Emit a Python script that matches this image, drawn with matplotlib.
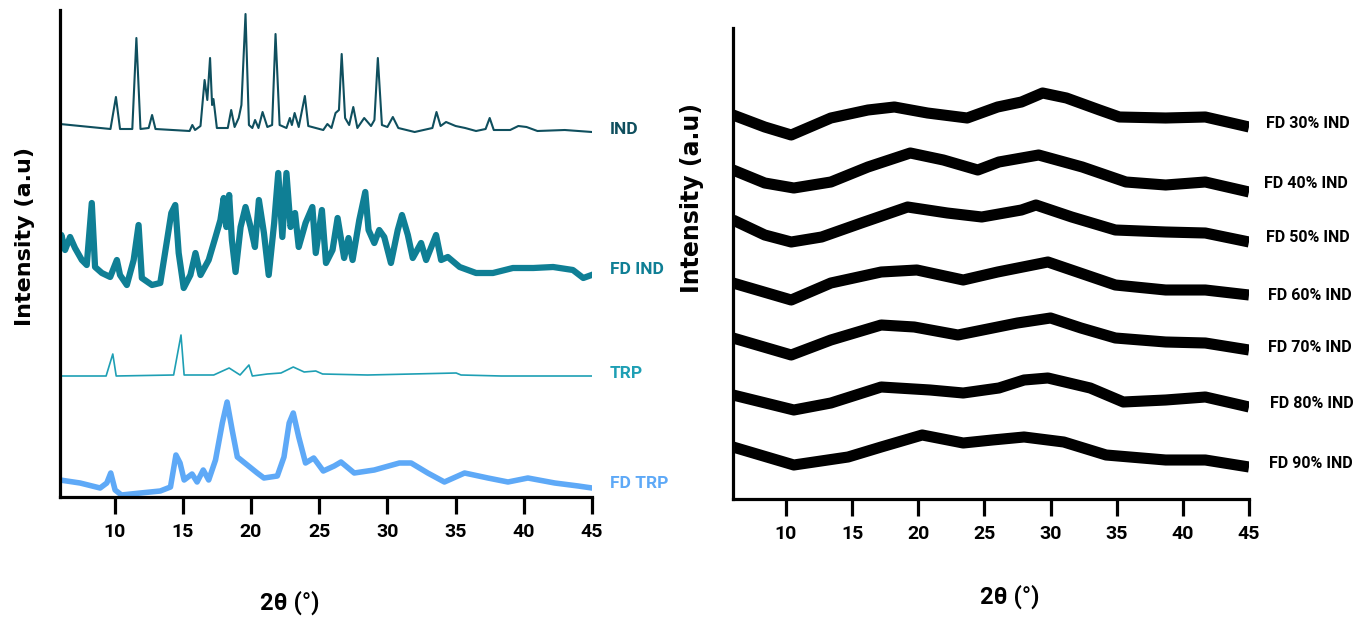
import numpy as np
import matplotlib
matplotlib.use("Agg")
import matplotlib.pyplot as plt

# ---- left panel: raw materials (2theta in deg, intensity in a.u.)
ind_tt = [6.0, 9.7, 10.1, 10.4, 11.3, 11.6, 11.9, 12.5, 12.75, 13.0,
          15.5, 15.7, 15.9, 16.3, 16.6, 16.8, 17.0, 17.15, 17.25, 17.5,
          18.3, 18.55, 18.8, 19.1, 19.3, 19.6, 19.85, 20.1, 20.3, 20.55,
          20.85, 21.2, 21.55, 21.8, 22.1, 22.6, 22.85, 23.0, 23.2, 23.5,
          23.95, 24.2, 25.3, 25.6, 25.9, 26.2, 26.45, 26.65, 26.9, 27.2,
          27.5, 27.8, 28.3, 28.8, 29.05, 29.3, 29.6, 30.0, 30.4, 30.8,
          32.0, 33.3, 33.6, 33.9, 34.3, 35.0, 35.7, 36.5, 37.2, 37.5,
          37.8, 39.0, 39.6, 40.2, 41.0, 43.0, 45.0]
ind_int = [11, 6, 38, 6, 6, 97, 6, 7, 20, 6,
           4, 10, 5, 9, 55, 35, 77, 30, 36, 7,
           7, 25, 8, 17, 30, 121, 10, 7, 15, 7,
           23, 8, 10, 101, 10, 7, 17, 10, 22, 8,
           39, 9, 5, 11, 7, 22, 25, 81, 17, 10,
           28, 7, 17, 9, 15, 77, 10, 8, 18, 7,
           3, 7, 23, 9, 13, 9, 7, 4, 6, 17,
           5, 5, 9, 8, 4, 5, 3]

fdind_tt = [6.0, 6.1, 6.37, 6.74, 7.1, 7.6, 7.96, 8.33, 8.57, 9.07,
            9.68, 10.17, 10.4, 10.9, 11.4, 11.76, 12.0, 12.74, 13.35, 13.85,
            14.16, 14.45, 14.7, 15.07, 15.56, 15.93, 16.3, 16.9, 17.4, 17.76,
            18.0, 18.2, 18.4, 18.6, 18.87, 19.24, 19.6, 19.97, 20.29, 20.58,
            20.95, 21.3, 21.7, 22.0, 22.3, 22.6, 22.9, 23.23, 23.5, 24.0,
            24.5, 24.75, 25.2, 25.5, 25.98, 26.35, 26.83, 27.15, 27.45, 27.94,
            28.38, 28.62, 29.04, 29.4, 29.77, 30.26, 30.76, 31.07, 31.5, 31.86,
            32.47, 32.84, 33.57, 33.94, 34.43, 35.3, 36.5, 37.74, 39.2, 40.7,
            42.15, 43.6, 44.36, 44.97]
fdind_int = [57, 65, 50, 63, 52, 40, 35, 97, 33, 27,
             23, 40, 25, 15, 40, 75, 22, 15, 17, 60,
             87, 95, 47, 12, 25, 47, 25, 40, 63, 80,
             102, 73, 105, 60, 28, 73, 93, 73, 53, 100,
             67, 25, 77, 127, 63, 127, 73, 87, 53, 77,
             93, 47, 90, 37, 50, 82, 42, 62, 40, 80,
             108, 70, 57, 70, 63, 37, 70, 85, 65, 42,
             57, 40, 65, 40, 43, 33, 27, 27, 32, 32,
             33, 30, 22, 25]

trp_tt = [6.0, 9.38, 9.87, 10.12, 14.33, 14.87, 15.1, 17.27, 18.4, 19.2,
          19.85, 20.1, 21.2, 22.2, 23.1, 23.9, 24.75, 25.25, 28.55, 35.04,
          35.4, 38.35, 45.0]
trp_int = [4, 4, 26, 4, 5, 45, 5, 5, 12, 5,
           15, 4, 6, 7, 13, 8, 9, 6, 5, 7,
           5, 4, 4]

fdtrp_tt = [6.0, 7.47, 8.94, 9.43, 9.72, 10.04, 10.5, 11.9, 13.35, 14.1,
            14.5, 14.8, 15.1, 15.68, 16.05, 16.5, 16.9, 17.4, 17.9, 18.25,
            18.62, 19.0, 19.73, 20.46, 20.95, 21.93, 22.42, 22.8, 23.1, 23.5,
            24.0, 24.6, 25.3, 26.1, 26.6, 27.57, 29.04, 30.88, 31.74, 32.96,
            34.18, 35.66, 37.37, 38.84, 40.3, 42.27, 43.99, 45.0]
fdtrp_int = [16, 13, 8, 13, 23, 6, 1, 3, 5, 9,
             41, 33, 16, 22, 14, 26, 16, 36, 73, 94,
             66, 39, 31, 23, 18, 20, 39, 73, 83, 59,
             33, 38, 25, 30, 34, 23, 26, 33, 33, 23,
             14, 23, 18, 14, 18, 13, 10, 8]

left_names = ["IND", "FD IND", "TRP", "FD TRP"]

# ---- right panel: freeze-dried co-amorphous mixtures
fd30_tt = [6.0, 8.4, 10.4, 13.4, 16.2, 18.2, 20.7, 23.7, 26.0, 27.8, 29.4, 31.2, 33.7, 35.2, 38.7, 41.7, 45.0]
fd30_int = [20, 8, 0, 17, 25, 28, 22, 17, 28, 33, 42, 37, 25, 18, 17, 18, 8]
fd40_tt = [6.0, 8.4, 10.6, 13.4, 16.2, 19.4, 21.9, 24.5, 26.1, 29.1, 32.4, 35.7, 38.7, 41.7, 45.0]
fd40_int = [22, 9, 4, 10, 25, 39, 32, 22, 30, 37, 25, 10, 7, 10, 0]
fd50_tt = [6.0, 8.4, 10.4, 12.7, 15.7, 19.2, 22.2, 24.8, 27.8, 28.9, 31.6, 34.9, 38.7, 41.7, 45.0]
fd50_int = [22, 7, 0, 5, 19, 35, 29, 25, 32, 37, 25, 12, 10, 9, 0]
fd60_tt = [6.0, 10.4, 13.4, 17.2, 19.9, 23.4, 26.0, 29.8, 34.9, 38.7, 41.7, 45.0]
fd60_int = [17, 0, 17, 28, 30, 20, 28, 38, 15, 10, 10, 5]
fd70_tt = [6.0, 10.4, 13.4, 17.2, 19.7, 23.0, 27.5, 30.0, 32.3, 34.9, 38.7, 41.7, 45.0]
fd70_int = [17, 0, 15, 30, 28, 20, 32, 37, 27, 17, 13, 12, 5]
fd80_tt = [6.0, 10.6, 13.4, 17.2, 20.9, 23.4, 26.1, 28.0, 29.8, 33.0, 35.5, 38.7, 41.7, 45.0]
fd80_int = [15, 0, 7, 23, 20, 17, 22, 30, 32, 22, 8, 10, 13, 3]
fd90_tt = [6.0, 10.6, 14.7, 17.2, 20.3, 23.4, 25.6, 28.0, 31.0, 34.2, 38.7, 41.7, 45.0]
fd90_int = [20, 2, 10, 20, 32, 24, 27, 30, 25, 12, 7, 7, 0]

right_names = ["FD 30% IND", "FD 40% IND", "FD 50% IND", "FD 60% IND",
               "FD 70% IND", "FD 80% IND", "FD 90% IND"]

LABEL_FONT = "Roboto"

fig = plt.figure(figsize=(13.61, 6.18), dpi=100)
W, H = 1361.0, 618.0
ax1 = fig.add_axes([60 / W, 1 - 497 / H, 532 / W, 487 / H])
ax2 = fig.add_axes([733 / W, 1 - 499 / H, 516 / W, 471 / H])

# left traces: (x, y, offset, colour, width, label y)
left_traces = [
    (ind_tt, ind_int, 362, "#0f4f5e", 1.5, 367),
    (fdind_tt, fdind_int, 197, "#0f7f95", 4.5, 227),
    (trp_tt, trp_int, 117, "#1e9fb4", 1.2, 123),
    (fdtrp_tt, fdtrp_int, 1, "#5ea9f7", 4.0, 14),
]
for (tt, inten, off, col, lw, ly), name in zip(left_traces, left_names):
    ax1.plot(tt, np.array(inten) + off, color=col, lw=lw, solid_joinstyle="round")
    ax1.text(46.3, ly, name, color=col, fontsize=12.5, fontweight="bold",
             family=LABEL_FONT, va="center", ha="left", clip_on=False)
ax1.set_ylim(0, 487)

right_traces = [
    (fd30_tt, fd30_int, 364, 376, 46.3),
    (fd40_tt, fd40_int, 307, 316, 46.1),
    (fd50_tt, fd50_int, 257, 262, 46.3),
    (fd60_tt, fd60_int, 199, 204, 46.4),
    (fd70_tt, fd70_int, 144, 151, 46.4),
    (fd80_tt, fd80_int, 89, 96, 46.6),
    (fd90_tt, fd90_int, 32, 36, 46.5),
]
for (tt, inten, off, ly, lx), name in zip(right_traces, right_names):
    ax2.plot(tt, np.array(inten) + off, color="black", lw=8,
             solid_joinstyle="round", solid_capstyle="butt")
    ax2.text(lx, ly, name, color="black", fontsize=11.5, fontweight="bold",
             family=LABEL_FONT, va="center", ha="left", clip_on=False)
ax2.set_ylim(0, 471)

for ax in (ax1, ax2):
    ax.set_xlim(6, 45)
    ax.set_xticks(range(10, 50, 5))
    ax.set_yticks([])
    for s in ("top", "right"):
        ax.spines[s].set_visible(False)
    for s in ("left", "bottom"):
        ax.spines[s].set_linewidth(2.3)
    ax.tick_params(axis="x", length=12, width=2.3, pad=7, labelsize=14)
    for lab in ax.get_xticklabels():
        lab.set_fontweight("bold")
        lab.set_family(LABEL_FONT)

fig.text(25 / W, 1 - 236 / H, "Intensity (a.u)", rotation=90, fontsize=16,
         fontweight="bold", ha="center", va="center")
fig.text(692 / W, 1 - 198 / H, "Intensity (a.u)", rotation=90, fontsize=17,
         fontweight="bold", ha="center", va="center")
fig.text(290 / W, 1 - 603 / H, "2θ (°)", fontsize=17, fontweight="bold",
         family=LABEL_FONT, ha="center", va="center")
fig.text(1010 / W, 1 - 597 / H, "2θ (°)", fontsize=17, fontweight="bold",
         family=LABEL_FONT, ha="center", va="center")

fig.savefig("out.png", dpi=100)
